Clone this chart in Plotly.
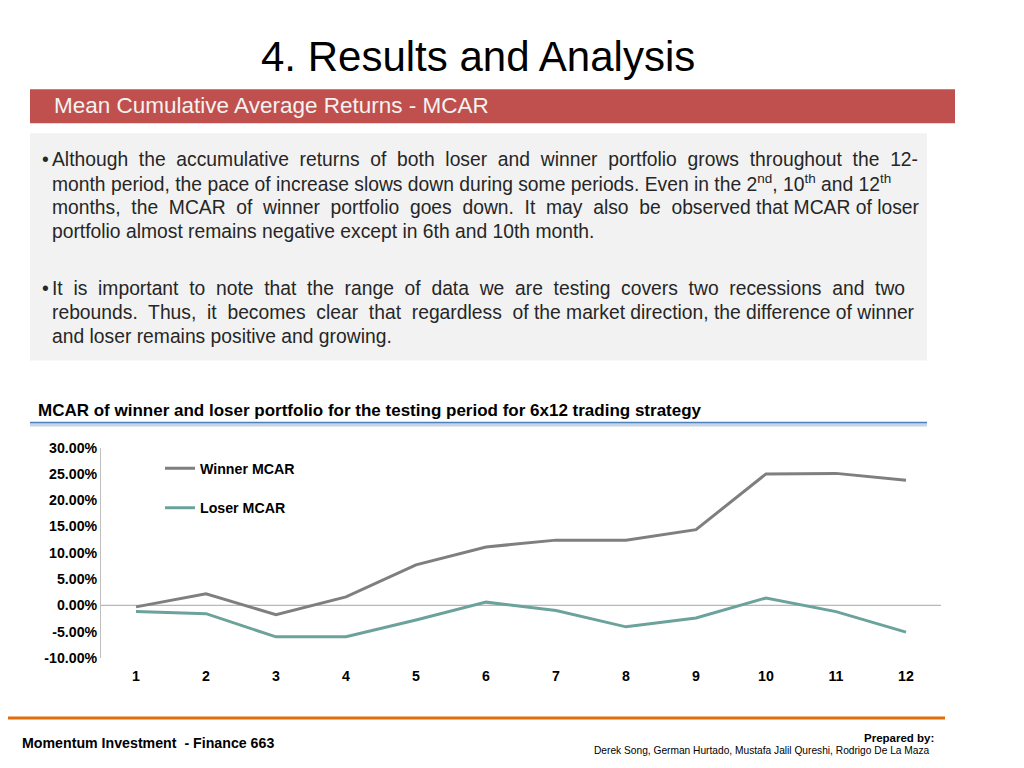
import plotly.graph_objects as go

months = list(range(1, 13))
winner_mcar = [-0.3, 2.2, -1.8, 1.6, 7.7, 11.1, 12.4, 12.4, 14.4, 25.0, 25.1, 23.8]
loser_mcar = [-1.2, -1.6, -6.0, -6.0, -2.8, 0.6, -1.0, -4.1, -2.4, 1.4, -1.2, -5.1]
y_ticks = [-10, -5, 0, 5, 10, 15, 20, 25, 30]

# page body has an 8px margin, so the figure is drawn smaller than the window
W, H = 1008, 752
FONT = "Liberation Sans"


def px(x):
    return (x - 8) / W


def py(y):
    # vertical correction measured from the previous render
    t = (y - 8) / 0.9777
    return 1 - (t - 8) / H


fig = go.Figure()
fig.add_trace(go.Scatter(x=months, y=winner_mcar, mode="lines", name="Winner MCAR",
                         legendgroup="w", line=dict(color="#7F7F7F", width=3)))
fig.add_trace(go.Scatter(x=months, y=loser_mcar, mode="lines", name="Loser MCAR",
                         legendgroup="l", line=dict(color="#6BA39C", width=3)))

shapes = [
    # red header bar
    dict(type="rect", xref="paper", yref="paper", x0=px(30), x1=px(955), y0=py(123), y1=py(89),
         fillcolor="#C0504D", line=dict(width=0), layer="below"),
    # grey text box
    dict(type="rect", xref="paper", yref="paper", x0=px(30), x1=px(927), y0=py(360), y1=py(133),
         fillcolor="#F2F2F2", line=dict(width=0), layer="below"),
    # blue rule under chart title
    dict(type="line", xref="paper", yref="paper", x0=px(30), x1=px(927), y0=py(424), y1=py(424),
         line=dict(color="#C6D4E8", width=4), layer="below"),
    dict(type="line", xref="paper", yref="paper", x0=px(30), x1=px(927), y0=py(422), y1=py(422),
         line=dict(color="#4F81BD", width=1.5), layer="below"),
    # orange footer rule
    dict(type="line", xref="paper", yref="paper", x0=px(8), x1=px(945), y0=py(717), y1=py(717),
         line=dict(color="#E46C0A", width=3)),
    # zero line
    dict(type="line", xref="x", yref="y", x0=0.5, x1=12.5, y0=0, y1=0,
         line=dict(color="#A6A6A6", width=1), layer="below"),
]

ann = []


def txt(x, y, s, size, color="#000000", anchor="left", bold=False):
    if bold:
        s = "<b>" + s + "</b>"
    ann.append(dict(x=px(x), y=py(y), xref="paper", yref="paper", text=s, showarrow=False,
                    xanchor=anchor, yanchor="middle", xshift=-2 if anchor == "left" else 0,
                    font=dict(family=FONT, size=size, color=color)))


txt(478, 56, "4. Results and Analysis", 42, anchor="center")
txt(54, 105, "Mean Cumulative Average Returns - MCAR", 22.5, color="#F2F2F2")

body = [
    (42, 159, "•"),
    (52, 159, "Although  the  accumulative  returns  of  both  loser  and  winner  portfolio  grows  throughout  the  12-"),
    (52, 183, "month period, the pace of increase slows down during some periods. Even in the 2<sup>nd</sup>, 10<sup>th</sup> and 12<sup>th</sup>"),
    (52, 207, "months,  the  MCAR  of  winner  portfolio  goes  down.  It  may  also  be  observed that MCAR of loser"),
    (52, 231, "portfolio almost remains negative except in 6th and 10th month."),
    (42, 288, "•"),
    (52, 288, "It  is  important  to  note  that  the  range  of  data  we  are  testing  covers  two  recessions  and  two "),
    (52, 312, "rebounds.  Thus,  it  becomes  clear  that  regardless  of the market direction, the difference of winner"),
    (52, 336, "and loser remains positive and growing."),
]
for x, y, s in body:
    txt(x, y, s, 19.3, color="#262626")

txt(38, 410, "MCAR of winner and loser portfolio for the testing period for 6x12 trading strategy", 17, bold=True)
txt(22, 742, "Momentum Investment  - Finance 663", 14.2, bold=True)
txt(936, 737, "Prepared by:", 11.5, anchor="right", bold=True)
txt(932, 750, "Derek Song, German Hurtado, Mustafa Jalil Qureshi, Rodrigo De La Maza", 10.2, anchor="right")

fig.update_layout(
    width=W, height=H, margin=dict(l=0, r=0, t=0, b=0),
    paper_bgcolor="white", plot_bgcolor="white",
    font=dict(family=FONT, color="#000000"),
    shapes=shapes, annotations=ann,
    legend=dict(x=px(160), y=py(452), xanchor="left", yanchor="top", bgcolor="rgba(0,0,0,0)",
                font=dict(size=14.2, family=FONT, weight="bold"), tracegroupgap=18, itemwidth=30),
    xaxis=dict(domain=[px(101), px(941)], range=[0.5, 12.5], tickvals=months,
               ticks="outside", ticklen=5, tickcolor="rgba(0,0,0,0)",
               showgrid=False, zeroline=False, showline=False,
               tickfont=dict(size=14.2, weight="bold")),
    yaxis=dict(domain=[py(657), py(447)], range=[-10, 30], tickvals=y_ticks,
               ticktext=["%.2f%%" % v for v in y_ticks], showgrid=False, zeroline=False,
               showline=True, linecolor="#BFBFBF", linewidth=1, ticks="",
               tickfont=dict(size=14.2, weight="bold")),
)

fig.write_html("out.html")
